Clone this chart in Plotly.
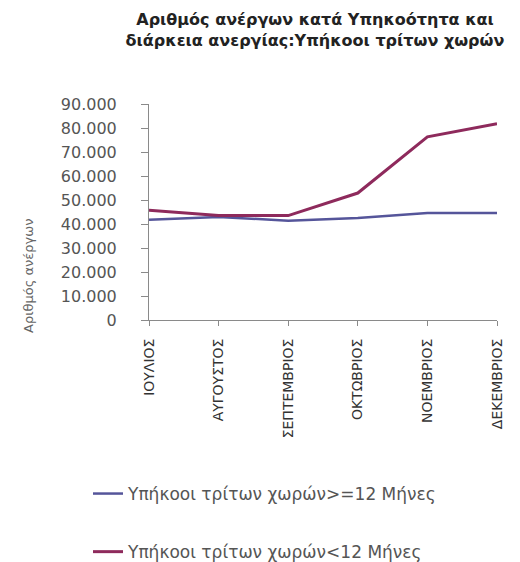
import plotly.graph_objects as go

months = ["ΙΟΥΛΙΟΣ", "ΑΥΓΟΥΣΤΟΣ", "ΣΕΠΤΕΜΒΡΙΟΣ", "ΟΚΤΩΒΡΙΟΣ", "ΝΟΕΜΒΡΙΟΣ", "ΔΕΚΕΜΒΡΙΟΣ"]
over12 = [41800, 42900, 41400, 42500, 44600, 44600]
under12 = [45700, 43500, 43500, 52900, 76300, 81800]
name_over = "Υπήκοοι τρίτων χωρών>=12 Μήνες"
name_under = "Υπήκοοι τρίτων χωρών<12 Μήνες"
title_text = "Αριθμός ανέργων κατά Υπηκοότητα και<br>διάρκεια ανεργίας:Υπήκοοι τρίτων χωρών"
ytitle = "Αριθμός ανέργων"
yticks = [0, 10000, 20000, 30000, 40000, 50000, 60000, 70000, 80000, 90000]

# plot area in pixels: x 141..489, y 96..312
PL, PR, PT, PB = 141, 489, 96, 312
PW, PH = PR - PL, PB - PT

fig = go.Figure()
fig.add_trace(go.Scatter(x=list(range(len(months))), y=over12, mode="lines", name=name_over,
                         line=dict(color="#55559a", width=2.5), legendgroup="a"))
fig.add_trace(go.Scatter(x=list(range(len(months))), y=under12, mode="lines", name=name_under,
                         line=dict(color="#8e2a5c", width=3), legendgroup="b"))

fig.update_layout(
    width=520, height=562,
    paper_bgcolor="white", plot_bgcolor="white",
    separators=",.",
    margin=dict(l=PL, r=520 - PR, t=PT, b=562 - PB, autoexpand=False),
    font=dict(family="DejaVu Sans", color="#444444"),
    title=dict(text=title_text, x=(307 - PL) / PW, xref="paper", xanchor="center",
               y=1 - 17 / 562, yref="container", yanchor="top",
               font=dict(family="DejaVu Sans", size=16, color="#222222", weight="bold")),
    showlegend=True,
    legend=dict(x=(80 - PL) / PW, xanchor="left", y=(PB - 468) / PH, yanchor="top",
                orientation="v", tracegroupgap=33, font=dict(size=17, color="#555555"),
                bgcolor="rgba(0,0,0,0)"),
    xaxis=dict(range=[0, 5], tickmode="array", tickvals=list(range(len(months))), ticktext=months,
               tickangle=-90, showgrid=False, zeroline=False, showline=True, linecolor="#8a8a8a",
               linewidth=1, ticks="outside", ticklen=5, tickcolor="#8a8a8a",
               ticklabelstandoff=7,
               tickfont=dict(family="DejaVu Sans", size=14, color="#333333")),
    yaxis=dict(range=[0, 90000], tickmode="array", tickvals=yticks, tickformat=",d",
               showgrid=False, zeroline=False, showline=True, linecolor="#8a8a8a", linewidth=1,
               ticks="outside", ticklen=7, tickcolor="#8a8a8a", ticklabelstandoff=21,
               tickfont=dict(family="DejaVu Sans", size=16, color="#555555")),
    annotations=[dict(text=ytitle, textangle=-90, xref="paper", yref="paper",
                      x=(20 - PL) / PW, y=(PB - 268) / PH, xanchor="center",
                      yanchor="middle", showarrow=False,
                      font=dict(size=13, color="#666666", family="DejaVu Sans"))],
)

fig.write_html("out.html")
